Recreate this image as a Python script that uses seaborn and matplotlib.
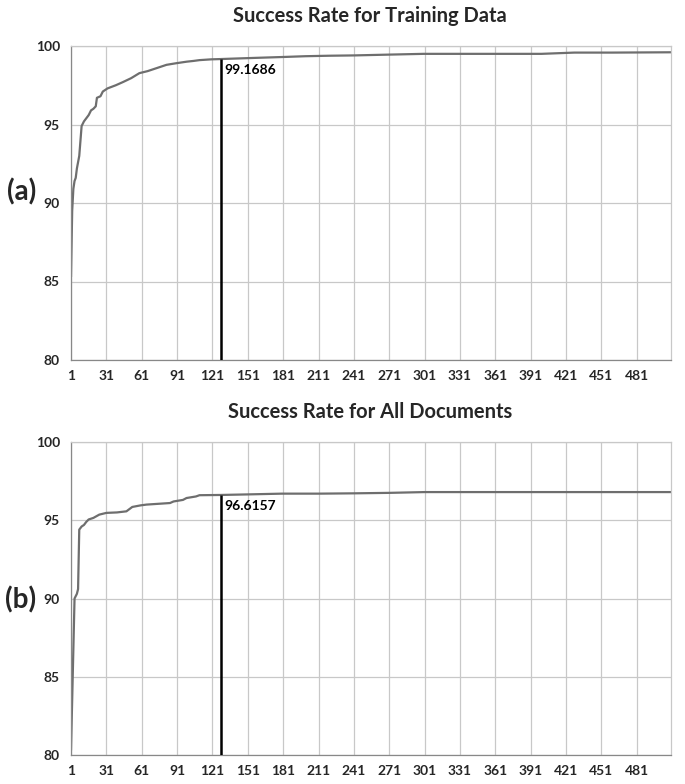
import matplotlib
matplotlib.use("Agg")
import matplotlib.pyplot as plt
import seaborn as sns
import pandas as pd

# ---- data ----
a_iter = [1, 2, 3, 4, 5, 6, 8, 10, 12, 14, 16, 18, 20, 22, 23, 26, 28, 32, 39, 45, 52, 59,
          66, 74, 82, 90, 99, 105, 110, 120, 128, 140, 160, 181, 200, 220, 241, 270, 300,
          330, 360, 400, 428, 460, 510]
a_rate = [85.3, 89.5, 90.9, 91.4, 91.6, 92.2, 93.0, 94.9, 95.2, 95.4, 95.6, 95.9, 96.0,
          96.16, 96.7, 96.8, 97.1, 97.3, 97.5, 97.7, 97.95, 98.27, 98.4, 98.6, 98.8, 98.9,
          99.0, 99.05, 99.1, 99.15, 99.1686, 99.2, 99.25, 99.3, 99.35, 99.38, 99.4, 99.45,
          99.5, 99.5, 99.5, 99.5, 99.58, 99.58, 99.6]

b_iter = [1, 4, 6, 7, 8, 10, 12, 14, 16, 20, 25, 31, 40, 48, 53, 60, 65, 75, 85, 88, 96,
          99, 107, 110, 128, 150, 180, 211, 241, 271, 301, 400, 510]
b_rate = [80.3, 90.0, 90.3, 90.6, 94.4, 94.6, 94.7, 94.9, 95.05, 95.15, 95.36, 95.47,
          95.5, 95.57, 95.85, 95.95, 96.0, 96.05, 96.1, 96.2, 96.3, 96.42, 96.52, 96.6,
          96.6157, 96.65, 96.7, 96.7, 96.72, 96.75, 96.8, 96.8, 96.8]

titles = ["Success Rate for Training Data", "Success Rate for All Documents"]
panel_labels = ["(a)", "(b)"]
marker_iter = [128, 128]
marker_value = [99.1686, 96.6157]
marker_text = ["99.1686", "96.6157"]
x_ticks = list(range(1, 482, 30))
y_ticks = [80, 85, 90, 95, 100]

sns.set_style("white")
plt.rcParams['font.family'] = ['Lato', 'DejaVu Sans']

fig = plt.figure(figsize=(6.85, 7.84), dpi=100)
W, H = 685, 784
boxes = [(71, 46, 671, 360), (71, 442, 671, 755)]
series = [(a_iter, a_rate), (b_iter, b_rate)]
label_pos = [(22, 192), (21, 600)]
title_y = [16, 412]

for i in range(2):
    x0, y0, x1, y1 = boxes[i]
    ax = fig.add_axes([x0 / W, 1 - y1 / H, (x1 - x0) / W, (y1 - y0) / H])
    df = pd.DataFrame({"iter": series[i][0], "rate": series[i][1]})
    sns.lineplot(data=df, x="iter", y="rate", ax=ax, color="#6e6e6e", linewidth=1.6)
    ax.vlines(marker_iter[i], 80, marker_value[i], color="black", linewidth=1.8, zorder=4)
    ax.text(marker_iter[i] + 3, marker_value[i] - 0.3, marker_text[i], ha="left", va="top",
            fontsize=10, fontweight="bold", color="black")
    ax.set_xlim(1, 510)
    ax.set_ylim(80, 100)
    ax.set_xticks(x_ticks)
    ax.set_yticks(y_ticks)
    ax.set_xticklabels([str(t) for t in x_ticks], fontsize=10, fontweight="bold")
    ax.set_yticklabels([str(t) for t in y_ticks], fontsize=10, fontweight="bold")
    ax.grid(True, color="#c8c8c8", linewidth=0.9)
    ax.set_axisbelow(True)
    ax.set_xlabel("")
    ax.set_ylabel("")
    for s in ["top", "right"]:
        ax.spines[s].set_color("#c8c8c8")
        ax.spines[s].set_linewidth(0.9)
    for s in ["left", "bottom"]:
        ax.spines[s].set_color("#888888")
        ax.spines[s].set_linewidth(0.9)
    ax.tick_params(axis="x", length=4, color="#888888", pad=3)
    ax.tick_params(axis="y", length=4, color="#888888", pad=4)
    fig.text(370 / W, 1 - title_y[i] / H, titles[i], ha="center", va="center",
             fontsize=14.5, fontweight="bold")
    fig.text(label_pos[i][0] / W, 1 - label_pos[i][1] / H, panel_labels[i], ha="center",
             va="center", fontsize=20, fontweight="bold")

fig.savefig("out.png", dpi=100)
